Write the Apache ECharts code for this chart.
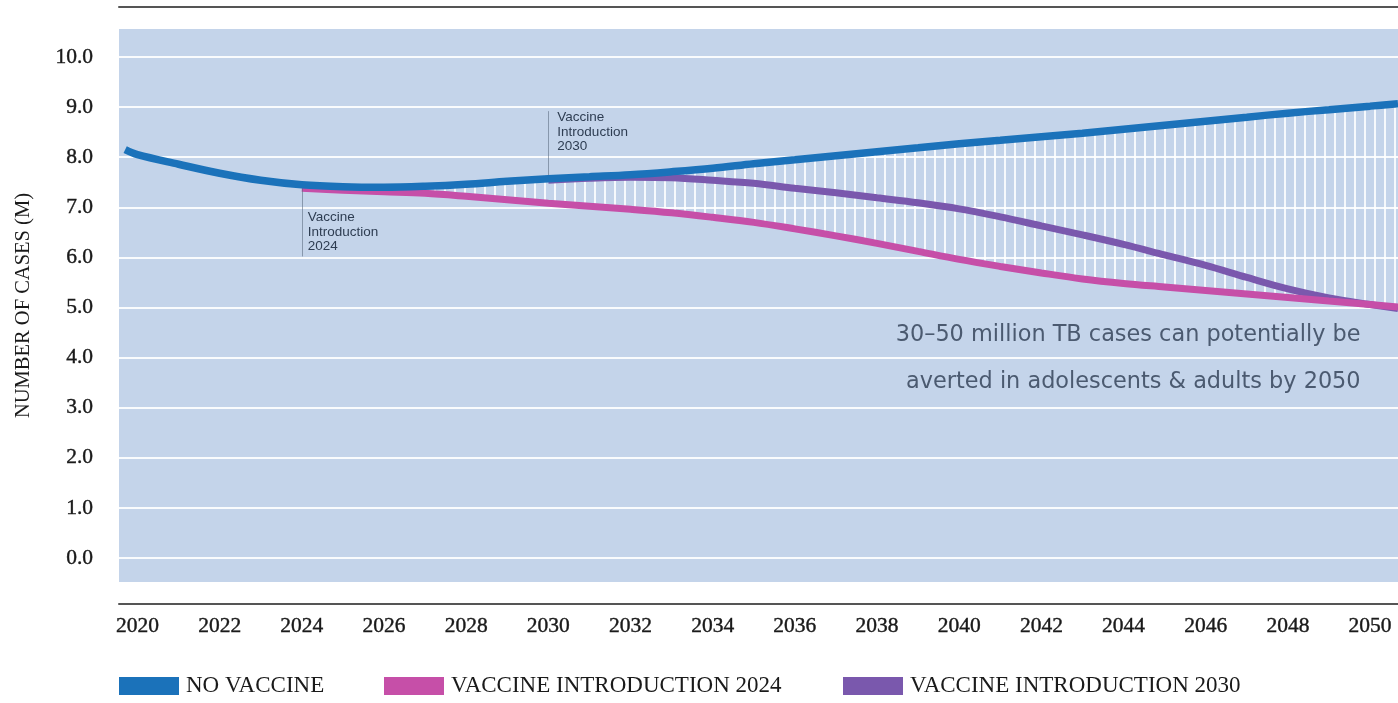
<!DOCTYPE html>
<html><head><meta charset="utf-8">
<script src="https://cdn.jsdelivr.net/npm/echarts@6/dist/echarts.min.js"></script>
<style>html,body{margin:0;padding:0;background:#fff;}#c{width:1398px;height:703px;}</style>
</head><body><div id="c"></div>
<script>
// ---------- DATA ----------
const seriesNames = ['NO VACCINE', 'VACCINE INTRODUCTION 2024', 'VACCINE INTRODUCTION 2030'];
const noVaccineYears = [2019.7, 2020, 2021, 2022, 2023, 2024, 2025, 2026, 2027, 2028, 2029, 2030, 2031, 2032, 2033, 2034, 2035, 2036, 2037, 2038, 2039, 2040, 2041, 2042, 2043, 2044, 2045, 2046, 2047, 2048, 2049, 2050, 2050.68];
const noVaccineValues = [8.15, 8.05, 7.86, 7.68, 7.54, 7.45, 7.41, 7.40, 7.42, 7.46, 7.52, 7.57, 7.61, 7.65, 7.71, 7.78, 7.87, 7.95, 8.03, 8.11, 8.19, 8.27, 8.34, 8.41, 8.48, 8.56, 8.64, 8.72, 8.80, 8.88, 8.95, 9.02, 9.07];
const vac2024Years = [2024, 2025, 2026, 2027, 2028, 2029, 2030, 2031, 2032, 2033, 2034, 2035, 2036, 2037, 2038, 2039, 2040, 2041, 2042, 2043, 2044, 2045, 2046, 2047, 2048, 2049, 2050, 2050.68];
const vac2024Values = [7.38, 7.34, 7.31, 7.28, 7.22, 7.15, 7.08, 7.02, 6.96, 6.89, 6.80, 6.70, 6.57, 6.43, 6.28, 6.12, 5.96, 5.82, 5.69, 5.57, 5.48, 5.41, 5.34, 5.27, 5.20, 5.13, 5.06, 5.01];
const vac2030Years = [2030, 2031, 2032, 2033, 2034, 2035, 2036, 2037, 2038, 2039, 2040, 2041, 2042, 2043, 2044, 2045, 2046, 2047, 2048, 2049, 2050, 2050.68];
const vac2030Values = [7.54, 7.58, 7.60, 7.59, 7.54, 7.48, 7.38, 7.29, 7.19, 7.09, 6.97, 6.81, 6.63, 6.45, 6.26, 6.05, 5.84, 5.60, 5.37, 5.19, 5.06, 4.98];
const xTickLabels = [2020, 2022, 2024, 2026, 2028, 2030, 2032, 2034, 2036, 2038, 2040, 2042, 2044, 2046, 2048, 2050];
const yTickLabels = [0, 1, 2, 3, 4, 5, 6, 7, 8, 9, 10];
const introYears = [2024, 2030];
const introLabels = ['Vaccine\nIntroduction\n2024', 'Vaccine\nIntroduction\n2030'];
const introLineSpans = [[6.02, 7.38], [7.55, 8.92]];
const noteLines = ['30\u201350 million TB cases can potentially be', 'averted in adolescents & adults by 2050'];

// ---------- DRAW ----------
const C_BLUE = '#1b72ba', C_PINK = '#c64fa8', C_PURPLE = '#7a58ad';
const serifFont = '"Liberation Serif"';
const TXT = '#1a1a1a';
const chart = echarts.init(document.getElementById('c'), null, {renderer: 'canvas'});

const pc = document.createElement('canvas');
pc.width = 10; pc.height = 10;
const pg = pc.getContext('2d');
pg.fillStyle = 'rgba(255,255,255,0.85)';
pg.fillRect(4, 0, 2, 10);

const blueByYear = {};
noVaccineYears.forEach((y, i) => { blueByYear[y] = noVaccineValues[i]; });

const pairs = (xs, ys) => xs.map((x, i) => [x, ys[i]]);
const XMIN = 2019.55, XMAX = 2050.68;

const lineBase = {type: 'line', showSymbol: false, symbol: 'none', smooth: 0.35, silent: true};
const serifLabel = {fontFamily: serifFont, color: TXT, textBorderColor: TXT, textBorderWidth: 0.4};

const option = {
  animation: false,
  backgroundColor: '#ffffff',
  grid: {left: 119, right: 0, top: 29, bottom: 121, show: true, backgroundColor: '#c4d4ea', borderWidth: 0},
  xAxis: [{
    type: 'value', min: XMIN, max: XMAX, position: 'bottom', offset: 22,
    axisLine: {show: true, onZero: false, lineStyle: {color: '#555', width: 2}},
    axisTick: {show: false},
    splitLine: {show: false},
    axisLabel: Object.assign({customValues: xTickLabels, formatter: v => String(v), margin: 11, fontSize: 21.5}, serifLabel)
  }, {
    type: 'value', min: XMIN, max: XMAX, position: 'top', offset: 22,
    axisLine: {show: true, onZero: false, lineStyle: {color: '#555', width: 2}},
    axisTick: {show: false}, splitLine: {show: false}, axisLabel: {show: false}
  }],
  yAxis: {
    type: 'value', min: -0.48, max: 10.56,
    name: 'NUMBER OF CASES (M)', nameLocation: 'middle', nameRotate: 90, nameGap: 85,
    nameTextStyle: {fontFamily: serifFont, fontSize: 20.5, color: TXT},
    axisLine: {show: false},
    axisTick: {show: false, customValues: yTickLabels},
    splitLine: {show: true, lineStyle: {color: 'rgba(255,255,255,0.9)', width: 2}},
    axisLabel: Object.assign({customValues: yTickLabels, formatter: v => v.toFixed(1), margin: 26, fontSize: 21.5}, serifLabel)
  },
  legend: seriesNames.map((n, i) => ({
    data: [n], left: [119, 384, 843][i], top: 674.5, icon: 'rect', itemWidth: 60, itemHeight: 18,
    padding: 0, selectedMode: false,
    textStyle: {fontFamily: serifFont, fontSize: 23, color: TXT, padding: [0, 0, 0, 2]}
  })),
  series: [{
    type: 'custom', name: 'hatch', silent: true, z: 1, clip: true,
    data: [[vac2024Years[0], vac2024Values[0]]],
    renderItem: function (params, api) {
      const top = vac2024Years.map(x => api.coord([x, blueByYear[x]]));
      const bot = vac2024Years.map((x, i) => api.coord([x, vac2024Values[i]])).reverse();
      return {type: 'polygon', shape: {points: top.concat(bot)},
        style: {fill: {image: pc, repeat: 'repeat'}}};
    },
    markLine: {
      silent: true, symbol: 'none', animation: false,
      lineStyle: {color: 'rgba(95,110,130,0.6)', width: 1, type: 'solid'},
      label: {show: false},
      data: introYears.map((y, i) => [{coord: [y, introLineSpans[i][0]]}, {coord: [y, introLineSpans[i][1]]}])
    }
  },
  Object.assign({}, lineBase, {name: seriesNames[2], z: 3, color: C_PURPLE,
    lineStyle: {color: C_PURPLE, width: 7}, data: pairs(vac2030Years, vac2030Values)}),
  Object.assign({}, lineBase, {name: seriesNames[1], z: 4, color: C_PINK,
    lineStyle: {color: C_PINK, width: 7}, data: pairs(vac2024Years, vac2024Values)}),
  Object.assign({}, lineBase, {name: seriesNames[0], z: 5, color: C_BLUE,
    lineStyle: {color: C_BLUE, width: 7.5}, data: pairs(noVaccineYears, noVaccineValues)})
  ]
};
chart.setOption(option);

// Annotation texts positioned through the chart's own scales
const introTextAnchors = [6.94, 8.94];
const graphics = introYears.map((y, i) => {
  const p = chart.convertToPixel({gridIndex: 0}, [y, introTextAnchors[i]]);
  return {type: 'text', z: 10, silent: true, x: p[0] + (i === 0 ? 6 : 9), y: p[1],
    style: {text: introLabels[i], font: '13.5px "Liberation Sans"', lineHeight: 14.5,
      fill: '#2e3d52', align: 'left', verticalAlign: 'top'}};
});
const noteAnchors = [4.45, 3.51];
noteLines.forEach((t, i) => {
  const p = chart.convertToPixel({gridIndex: 0}, [2049.77, noteAnchors[i]]);
  graphics.push({type: 'text', z: 10, silent: true, x: p[0], y: p[1],
    style: {text: t, font: '22.4px "DejaVu Sans"', fill: '#4b5a70', align: 'right', verticalAlign: 'middle'}});
});
chart.setOption({graphic: graphics});
</script>
</body></html>
